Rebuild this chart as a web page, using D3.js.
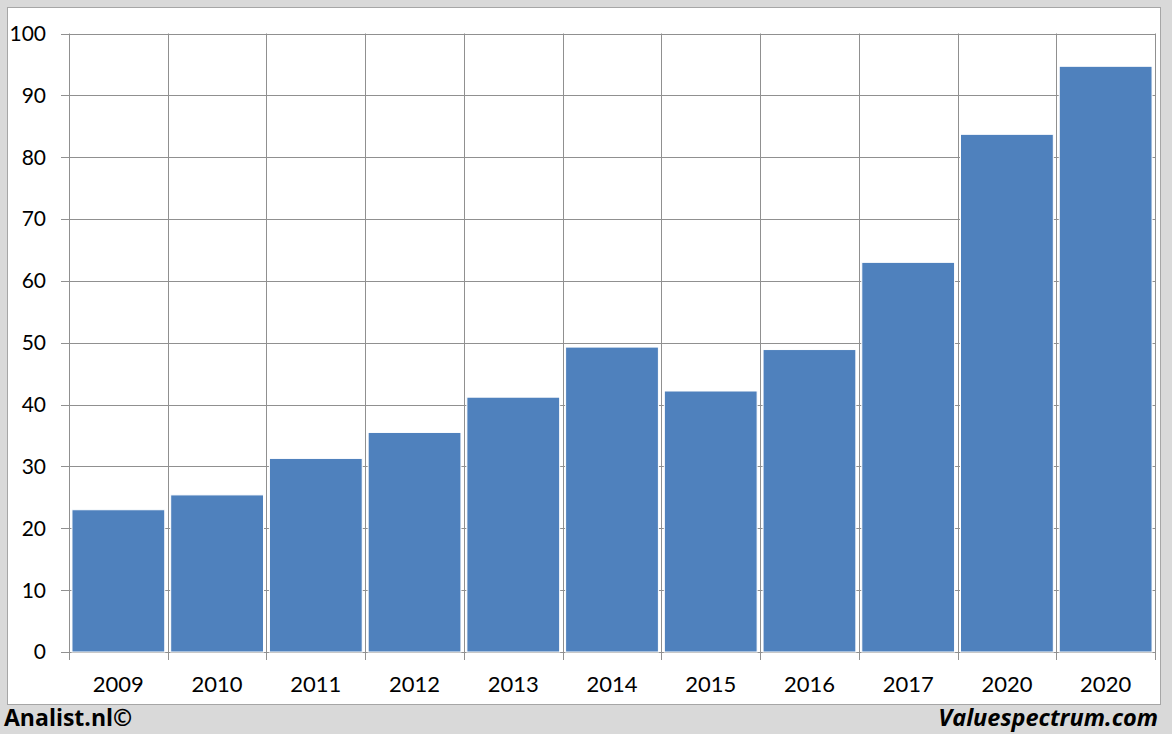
<!DOCTYPE html>
<html><head><meta charset="utf-8">
<script src="https://cdn.jsdelivr.net/npm/d3@7"></script>
<style>html,body{margin:0;padding:0;background:#d9d9d9;}svg{display:block;}</style>
</head><body>
<svg id="c" width="1172" height="734"></svg>
<script>
const categories = ["2009","2010","2011","2012","2013","2014","2015","2016","2017","2020","2020"];
const values = [23.0, 25.4, 31.3, 35.5, 41.2, 49.3, 42.2, 48.9, 63.0, 83.7, 94.7];
const yTicks = [0,10,20,30,40,50,60,70,80,90,100];

const svg = d3.select("#c");
svg.append("rect").attr("x",0).attr("y",0).attr("width",1172).attr("height",734).attr("fill","#d9d9d9");
svg.append("rect").attr("x",7.5).attr("y",7.5).attr("width",1153).attr("height",697)
  .attr("fill","#ffffff").attr("stroke","#a6a6a6").attr("stroke-width",1);

const L = 69, R = 1155, T = 33.5, B = 652;
const idx = categories.map((d,i)=>i);
const x = d3.scaleBand().domain(idx).range([L,R]).paddingInner(0.06).paddingOuter(0.03);
const xb = d3.scaleLinear().domain([0,categories.length]).range([L,R]);
const y = d3.scaleLinear().domain([0,100]).range([B,T]);
const font = "Lato, 'Open Sans', sans-serif";

svg.append("g").selectAll("line").data(yTicks).join("line")
  .attr("x1",L-8).attr("x2",R).attr("y1",d=>Math.round(y(d))+0.5).attr("y2",d=>Math.round(y(d))+0.5)
  .attr("stroke","#909090").attr("stroke-width",1);
svg.append("g").selectAll("line").data(d3.range(categories.length+1)).join("line")
  .attr("x1",d=>Math.round(xb(d))+0.5).attr("x2",d=>Math.round(xb(d))+0.5)
  .attr("y1",T).attr("y2",B+8)
  .attr("stroke","#909090").attr("stroke-width",1);

svg.append("g").selectAll("rect").data(values).join("rect")
  .attr("x",(d,i)=>x(i)).attr("width",x.bandwidth())
  .attr("y",d=>y(d)).attr("height",d=>B-y(d))
  .attr("fill","#4f81bd").attr("stroke","#ffffff").attr("stroke-width",1);

svg.append("g").selectAll("text").data(yTicks).join("text")
  .attr("x",46).attr("y",d=>y(d)).attr("dy","0.35em").attr("text-anchor","end")
  .attr("font-family",font).attr("font-size",21).attr("fill","#000")
  .text(d=>d);
svg.append("g").selectAll("text").data(categories).join("text")
  .attr("x",(d,i)=>xb(i+0.5)).attr("y",692).attr("text-anchor","middle")
  .attr("font-family",font).attr("font-size",22).attr("fill","#000")
  .text(d=>d);

svg.append("text").attr("x",4).attr("y",726).attr("font-family","'Open Sans', sans-serif")
  .attr("font-weight","bold").attr("font-size",23).attr("fill","#000").text("Analist.nl©");
svg.append("text").attr("x",1158).attr("y",726).attr("text-anchor","end").attr("font-family","'Open Sans', sans-serif")
  .attr("font-weight","bold").attr("font-style","italic").attr("font-size",23.5).attr("fill","#000").text("Valuespectrum.com");
</script>
</body></html>
